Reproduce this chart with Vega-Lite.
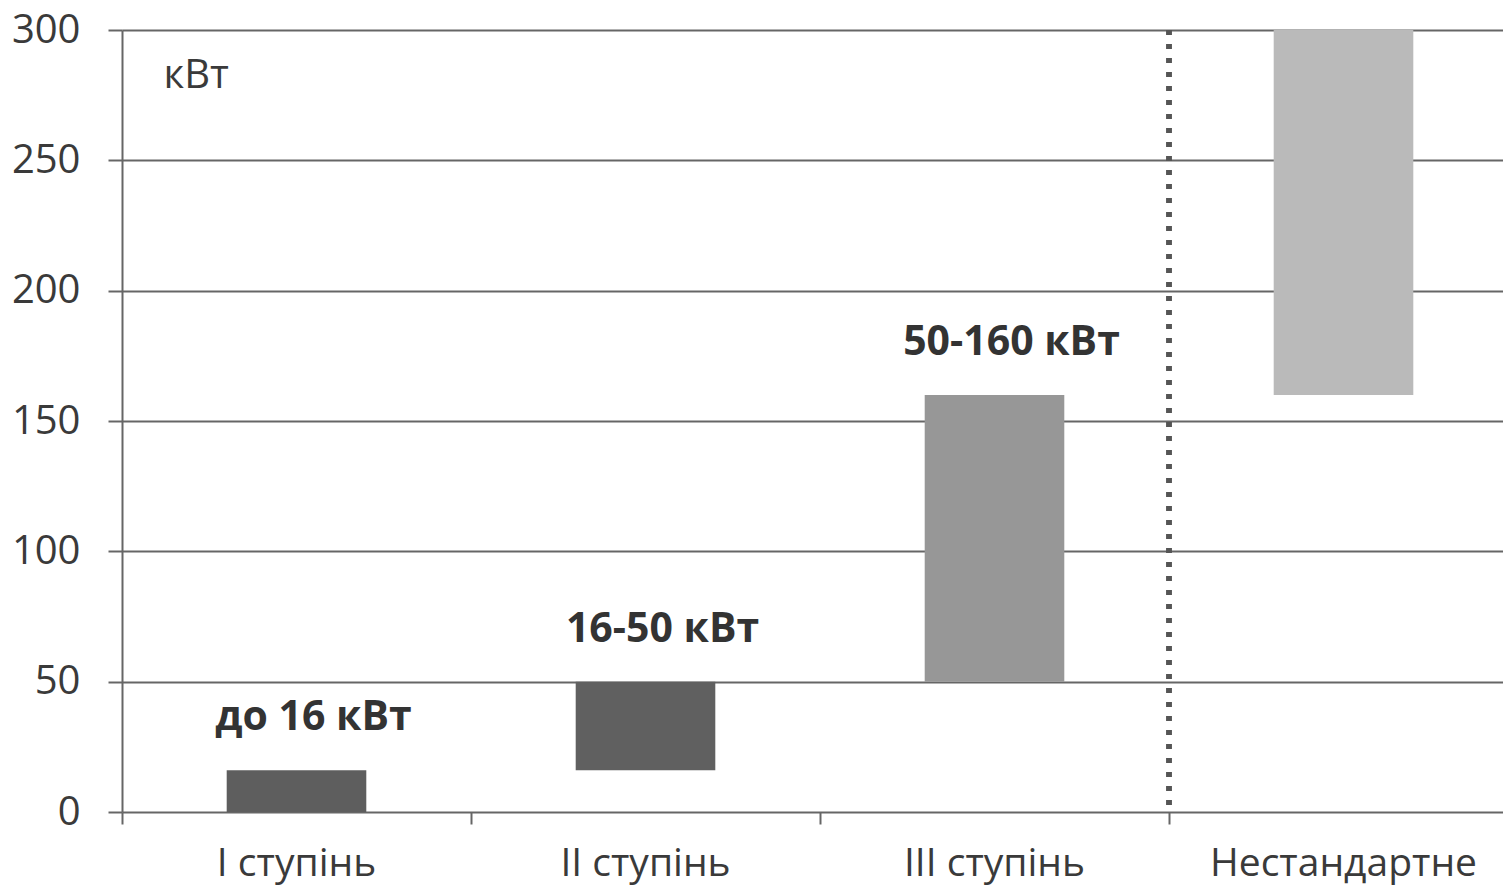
{
  "$schema": "https://vega.github.io/schema/vega-lite/v6.json",
  "autosize": {"type": "none"},
  "padding": {"left": 122, "top": 30, "right": 0, "bottom": 77},
  "width": 1381,
  "height": 782,
  "config": {
    "view": {"stroke": null},
    "font": "Open Sans",
    "axis": {"labelFont": "Open Sans", "titleFont": "Open Sans"}
  },
  "data": {
    "values": [
      {"category": "I ступінь", "low": 0, "high": 16, "label": "до 16 кВт"},
      {"category": "II ступінь", "low": 16, "high": 50, "label": "16-50 кВт"},
      {"category": "III ступінь", "low": 50, "high": 160, "label": "50-160 кВт"},
      {"category": "Нестандартне", "low": 160, "high": 300, "label": ""}
    ]
  },
  "encoding": {
    "x": {
      "field": "category",
      "type": "nominal",
      "sort": null,
      "scale": {"range": [0, 1396], "paddingInner": 0, "paddingOuter": 0},
      "axis": {
        "title": null,
        "bandPosition": 0,
        "labelAngle": 0,
        "labelFontSize": 39,
        "labelLimit": 500,
        "labelColor": "#3a3a3a",
        "labelPadding": 20,
        "tickSize": 12,
        "tickWidth": 2,
        "tickColor": "#666666",
        "domain": false,
        "grid": false
      }
    }
  },
  "layer": [
    {
      "mark": {"type": "bar", "width": {"band": 0.4}},
      "encoding": {
        "y": {
          "field": "low",
          "type": "quantitative",
          "scale": {"domain": [0, 300], "nice": false},
          "axis": {
            "values": [0, 50, 100, 150, 200, 250, 300],
            "title": "кВт",
            "titleAngle": 0,
            "titleX": 41,
            "titleY": 45,
            "titleAlign": "left",
            "titleBaseline": "middle",
            "titleFontSize": 40,
            "titleFontWeight": "normal",
            "titleColor": "#3a3a3a",
            "labelFontSize": 40,
            "labelColor": "#3a3a3a",
            "labelPadding": 28,
            "tickSize": 14,
            "tickWidth": 2,
            "tickColor": "#666666",
            "domainColor": "#666666",
            "domainWidth": 2,
            "gridColor": "#666666",
            "gridWidth": 2,
            "gridOpacity": 1
          }
        },
        "y2": {"field": "high"},
        "color": {
          "field": "category",
          "type": "nominal",
          "sort": null,
          "scale": {"range": ["#5e5e5e", "#606060", "#979797", "#bababa"]},
          "legend": null
        }
      }
    },
    {
      "transform": [{"filter": "datum.label != ''"}],
      "mark": {
        "type": "text",
        "fontSize": 41,
        "fontWeight": "bold",
        "color": "#333333",
        "baseline": "alphabetic",
        "align": "center",
        "dy": -40,
        "dx": 17
      },
      "encoding": {
        "y": {"field": "high", "type": "quantitative"},
        "text": {"field": "label"}
      }
    },
    {
      "mark": {
        "type": "rule",
        "color": "#555555",
        "strokeWidth": 5,
        "strokeDash": [5, 9],
        "strokeCap": "butt"
      },
      "encoding": {
        "x": {"datum": "Нестандартне", "bandPosition": 0}
      }
    }
  ]
}
